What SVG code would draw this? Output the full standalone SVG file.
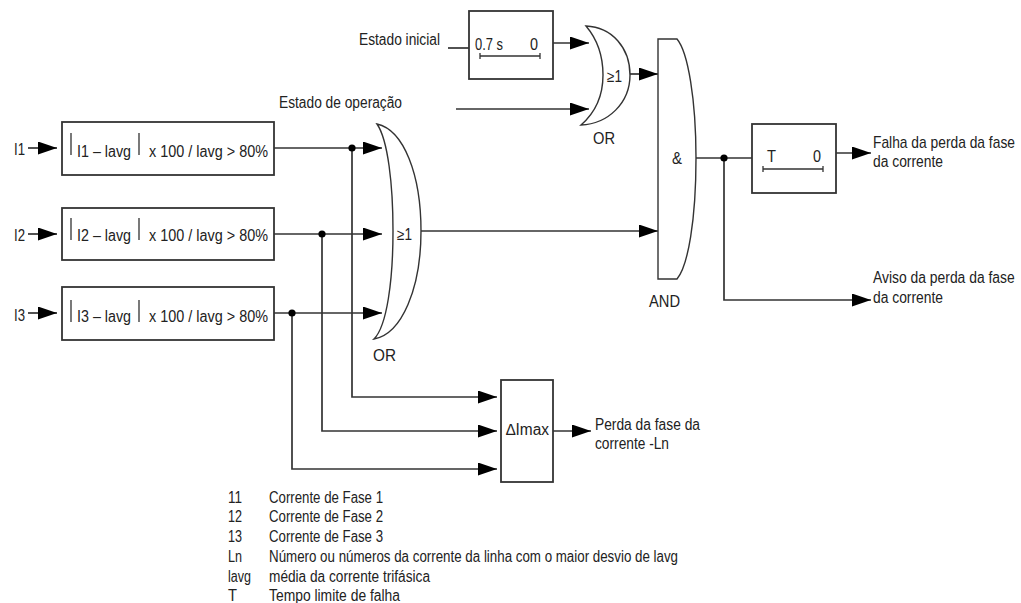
<svg xmlns="http://www.w3.org/2000/svg" width="1021" height="603" viewBox="0 0 1021 603">
<style>
text{font-family:"Liberation Sans",Arial,sans-serif;font-size:16px;fill:#222}
.b{fill:#fff;stroke:#333;stroke-width:1.8}
.g{fill:#fff;stroke:#333;stroke-width:1.4}
.l{fill:none;stroke:#333;stroke-width:1.7}
.t{fill:none;stroke:#333;stroke-width:1.3}
</style>
<defs>
<marker id="a" markerUnits="userSpaceOnUse" markerWidth="20" markerHeight="14" refX="19" refY="6.500" orient="auto"><path d="M0 0L19 6.500L0 13Z" fill="#000"/></marker>
</defs>
<rect width="1021" height="603" fill="#fff"/>
<g id="connectors">
<path class="l" d="M448 48H469"/>
<path class="l" d="M553 43H589" marker-end="url(#a)"/>
<path class="l" d="M456 109H589" marker-end="url(#a)"/>
<path class="l" d="M630 74H658" marker-end="url(#a)"/>
<path class="l" d="M28 148H57" marker-end="url(#a)"/>
<path class="l" d="M28 234H57" marker-end="url(#a)"/>
<path class="l" d="M28 313H57" marker-end="url(#a)"/>
<path class="l" d="M274 148H382" marker-end="url(#a)"/>
<path class="l" d="M274 234H382" marker-end="url(#a)"/>
<path class="l" d="M274 313H382" marker-end="url(#a)"/>
<path class="l" d="M421 231H658" marker-end="url(#a)"/>
<path class="l" d="M352 148V397H497" marker-end="url(#a)"/>
<path class="l" d="M322 234V431H497" marker-end="url(#a)"/>
<path class="l" d="M292 313V469H497" marker-end="url(#a)"/>
<path class="l" d="M553 431H591" marker-end="url(#a)"/>
<path class="l" d="M696 158H752"/>
<path class="l" d="M836 153H871" marker-end="url(#a)"/>
<path class="l" d="M724 158V300H871" marker-end="url(#a)"/>
<circle cx="352" cy="148" r="3.600" fill="#000"/>
<circle cx="322" cy="234" r="3.600" fill="#000"/>
<circle cx="292" cy="313" r="3.600" fill="#000"/>
<circle cx="724" cy="158" r="3.600" fill="#000"/>
</g>
<g id="label-estado-inicial"><text x="359" y="45" textLength="81" lengthAdjust="spacingAndGlyphs">Estado inicial</text></g>
<g id="label-estado-operacao"><text x="279" y="108" textLength="123" lengthAdjust="spacingAndGlyphs">Estado de operação</text></g>
<g id="timer-07"><rect class="b" x="469" y="11" width="84" height="68"/>
<path class="t" d="M480 53V59M480 56H540M540 53V59"/>
<text x="475" y="50" textLength="28" lengthAdjust="spacingAndGlyphs">0.7 s</text><text x="530" y="50" textLength="8" lengthAdjust="spacingAndGlyphs">0</text></g>
<g id="or-top"><path class="g" d="M586 26C612 27 630 48 630 75C630 103 608 124 581 125C596 112 603 94 603 75C603 55 597 39 586 26Z"/>
<text x="607" y="82" textLength="15" lengthAdjust="spacingAndGlyphs">≥1</text><text x="593" y="144" textLength="22" lengthAdjust="spacingAndGlyphs">OR</text></g>
<g id="and"><path class="g" d="M658 39H677C688 52 696 100 696 158C696 220 688 266 677 279H658Z"/>
<text x="672" y="164" textLength="10" lengthAdjust="spacingAndGlyphs">&amp;</text><text x="649" y="307" textLength="31" lengthAdjust="spacingAndGlyphs">AND</text></g>
<g id="timer-t"><rect class="b" x="752" y="124" width="84" height="69"/>
<path class="t" d="M763 166V172M763 169H823M823 166V172"/>
<text x="767" y="162" textLength="9" lengthAdjust="spacingAndGlyphs">T</text><text x="813" y="162" textLength="8" lengthAdjust="spacingAndGlyphs">0</text></g>
<g id="label-falha"><text transform="translate(873 148) scale(.863 1)">Falha da perda da fase</text><text x="873" y="167" textLength="70" lengthAdjust="spacingAndGlyphs">da corrente</text></g>
<g id="label-aviso"><text transform="translate(873 283) scale(.868 1)">Aviso da perda da fase</text><text x="873" y="303" textLength="70" lengthAdjust="spacingAndGlyphs">da corrente</text></g>
<g id="input-1"><text x="14" y="155" textLength="11" lengthAdjust="spacingAndGlyphs">I1</text></g>
<g id="input-2"><text x="14" y="241" textLength="11" lengthAdjust="spacingAndGlyphs">I2</text></g>
<g id="input-3"><text x="14" y="321" textLength="11" lengthAdjust="spacingAndGlyphs">I3</text></g>
<g id="cond-1"><rect class="b" x="62" y="122" width="212" height="53"/>
<path class="t" d="M71 133V155M139 133V155"/>
<text x="77" y="157" textLength="54" lengthAdjust="spacingAndGlyphs">I1 – lavg</text><text x="149" y="157" textLength="119" lengthAdjust="spacingAndGlyphs">x 100 / lavg &gt; 80%</text></g>
<g id="cond-2"><rect class="b" x="62" y="208" width="212" height="52"/>
<path class="t" d="M71 218V240M139 218V240"/>
<text x="77" y="241" textLength="54" lengthAdjust="spacingAndGlyphs">I2 – lavg</text><text x="149" y="241" textLength="119" lengthAdjust="spacingAndGlyphs">x 100 / lavg &gt; 80%</text></g>
<g id="cond-3"><rect class="b" x="62" y="287" width="212" height="53"/>
<path class="t" d="M71 300V322M139 300V322"/>
<text x="77" y="322" textLength="54" lengthAdjust="spacingAndGlyphs">I3 – lavg</text><text x="149" y="322" textLength="119" lengthAdjust="spacingAndGlyphs">x 100 / lavg &gt; 80%</text></g>
<g id="or-main"><path class="g" d="M377 124C404 130 421 175 421 231C421 288 402 334 374 339C387 326 393 280 393 231C393 185 388 140 377 124Z"/>
<text x="397" y="240" textLength="15" lengthAdjust="spacingAndGlyphs">≥1</text><text x="373" y="361" textLength="23" lengthAdjust="spacingAndGlyphs">OR</text></g>
<g id="delta-imax"><rect class="b" x="501" y="380" width="52" height="102"/>
<text x="506" y="435" textLength="43" lengthAdjust="spacingAndGlyphs">∆Imax</text></g>
<g id="label-perda"><text x="595" y="430" textLength="105" lengthAdjust="spacingAndGlyphs">Perda da fase da</text><text x="595" y="449" textLength="74" lengthAdjust="spacingAndGlyphs">corrente -Ln</text></g>
<g id="legend">
<text x="228" y="503" textLength="14" lengthAdjust="spacingAndGlyphs">11</text><text x="269" y="503" textLength="114" lengthAdjust="spacingAndGlyphs">Corrente de Fase 1</text>
<text x="228" y="522" textLength="14" lengthAdjust="spacingAndGlyphs">12</text><text x="269" y="522" textLength="114" lengthAdjust="spacingAndGlyphs">Corrente de Fase 2</text>
<text x="228" y="542" textLength="14" lengthAdjust="spacingAndGlyphs">13</text><text x="269" y="542" textLength="114" lengthAdjust="spacingAndGlyphs">Corrente de Fase 3</text>
<text x="228" y="562" textLength="14" lengthAdjust="spacingAndGlyphs">Ln</text><text x="269" y="562" textLength="409" lengthAdjust="spacingAndGlyphs">Número ou números da corrente da linha com o maior desvio de lavg</text>
<text x="228" y="582" textLength="23" lengthAdjust="spacingAndGlyphs">lavg</text><text x="269" y="582" textLength="161" lengthAdjust="spacingAndGlyphs">média da corrente trifásica</text>
<text x="228" y="601" textLength="9" lengthAdjust="spacingAndGlyphs">T</text><text x="269" y="601" textLength="131" lengthAdjust="spacingAndGlyphs">Tempo limite de falha</text>
</g>
</svg>
